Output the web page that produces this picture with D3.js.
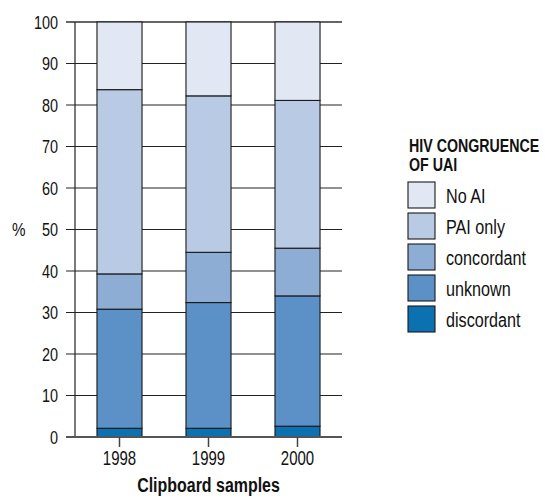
<!DOCTYPE html>
<html>
<head>
<meta charset="utf-8">
<script src="https://cdn.jsdelivr.net/npm/d3@7"></script>
<style>
  body { margin: 0; background: #fff; }
  svg text { font-family: "Liberation Sans", Arial, sans-serif; fill: #111; }
</style>
</head>
<body>
<div id="chart"></div>
<script>
// Percent of each sample, by HIV congruence of UAI
const years = ["1998", "1999", "2000"];
const discordant = [2.1, 2.1, 2.6];
const unknown = [28.7, 30.3, 31.4];
const concordant = [8.5, 12.1, 11.5];
const paiOnly = [44.4, 37.7, 35.6];
const noAI = [16.3, 17.8, 18.9];

const seriesKeys = ["discordant", "unknown", "concordant", "PAI only", "No AI"];
const seriesColors = ["#0b71b0", "#5b91c7", "#8dadd5", "#b9cbe4", "#e1e8f3"];
const yTicks = [0, 10, 20, 30, 40, 50, 60, 70, 80, 90, 100];

document.addEventListener("DOMContentLoaded", function () {
    const width = 545, height = 499;

    const rows = years.map((y, i) => ({
        year: y,
        "discordant": discordant[i],
        "unknown": unknown[i],
        "concordant": concordant[i],
        "PAI only": paiOnly[i],
        "No AI": noAI[i]
    }));

    const svg = d3.select("#chart").append("svg")
        .attr("width", width)
        .attr("height", height);

    // no narrow font installed, so squeeze the text horizontally instead
    function place(sel, fx, fy, s) {
        sel.attr("transform", (d, i) => `translate(${fx(d, i)},${fy(d, i)}) scale(${s},1)`);
    }

    const x = d3.scaleBand()
        .domain(years)
        .range([75, 342])
        .paddingInner(0.494)
        .paddingOuter(0.247);

    const y = d3.scaleLinear()
        .domain([0, 100])
        .range([437, 22]);

    const color = d3.scaleOrdinal().domain(seriesKeys).range(seriesColors);

    // horizontal grid lines (extend left as ticks)
    svg.append("g")
        .selectAll("line")
        .data(yTicks)
        .join("line")
        .attr("x1", 66)
        .attr("x2", 342)
        .attr("y1", d => y(d))
        .attr("y2", d => y(d))
        .attr("stroke", d => (d === 100 || d === 0) ? "#666" : "#222")
        .attr("stroke-width", d => (d === 100 || d === 0) ? 2 : 1.2);

    // y axis line
    svg.append("line")
        .attr("x1", 75).attr("x2", 75)
        .attr("y1", y(100)).attr("y2", y(0))
        .attr("stroke", "#222")
        .attr("stroke-width", 1.2);

    // y tick labels
    svg.append("g")
        .selectAll("text")
        .data(yTicks)
        .join("text")
        .attr("dy", "0.36em")
        .attr("text-anchor", "end")
        .style("font-size", "19px")
        .text(d => d)
        .call(place, () => 58, d => y(d), 0.76);

    svg.append("text")
        .attr("dy", "0.36em")
        .style("font-size", "19px")
        .text("%")
        .call(place, () => 12, () => y(50), 0.8);

    // stacked bars
    const stacked = d3.stack().keys(seriesKeys)(rows);

    svg.append("g")
        .selectAll("g")
        .data(stacked)
        .join("g")
        .attr("fill", d => color(d.key))
        .selectAll("rect")
        .data(d => d)
        .join("rect")
        .attr("x", d => x(d.data.year))
        .attr("y", d => y(d[1]))
        .attr("width", x.bandwidth())
        .attr("height", d => y(d[0]) - y(d[1]))
        .attr("stroke", "#1a1a1a")
        .attr("stroke-width", 1.1);

    // bottom axis line and ticks
    svg.append("line")
        .attr("x1", 66).attr("x2", 342)
        .attr("y1", y(0)).attr("y2", y(0))
        .attr("stroke", "#555")
        .attr("stroke-width", 2);

    svg.append("g")
        .selectAll("line")
        .data(years)
        .join("line")
        .attr("x1", d => x(d) + x.bandwidth() / 2)
        .attr("x2", d => x(d) + x.bandwidth() / 2)
        .attr("y1", y(0))
        .attr("y2", y(0) + 10)
        .attr("stroke", "#444")
        .attr("stroke-width", 1.5);

    svg.append("g")
        .selectAll("text")
        .data(years)
        .join("text")
        .attr("text-anchor", "middle")
        .style("font-size", "20px")
        .text(d => d)
        .call(place, d => x(d) + x.bandwidth() / 2, () => 465, 0.75);

    svg.append("text")
        .attr("text-anchor", "middle")
        .style("font-size", "21px")
        .style("font-weight", "bold")
        .text("Clipboard samples")
        .call(place, () => 208.5, () => 492, 0.76);

    // legend
    const legend = svg.append("g").attr("transform", "translate(408,0)");

    legend.append("text")
        .style("font-size", "18px")
        .style("font-weight", "bold")
        .text("HIV CONGRUENCE")
        .call(place, () => 1, () => 152, 0.79);

    legend.append("text")
        .style("font-size", "18px")
        .style("font-weight", "bold")
        .text("OF UAI")
        .call(place, () => 1, () => 171, 0.79);

    const legendKeys = seriesKeys.slice().reverse();

    const item = legend.selectAll(".item")
        .data(legendKeys)
        .join("g")
        .attr("class", "item")
        .attr("transform", (d, i) => `translate(0,${182 + i * 31})`);

    item.append("rect")
        .attr("width", 27)
        .attr("height", 26)
        .attr("fill", d => color(d))
        .attr("stroke", "#1a1a1a")
        .attr("stroke-width", 1.1);

    item.append("text")
        .attr("dy", "0.36em")
        .style("font-size", "21px")
        .text(d => d)
        .call(place, () => 38, () => 13, 0.77);
});
</script>
</body>
</html>
